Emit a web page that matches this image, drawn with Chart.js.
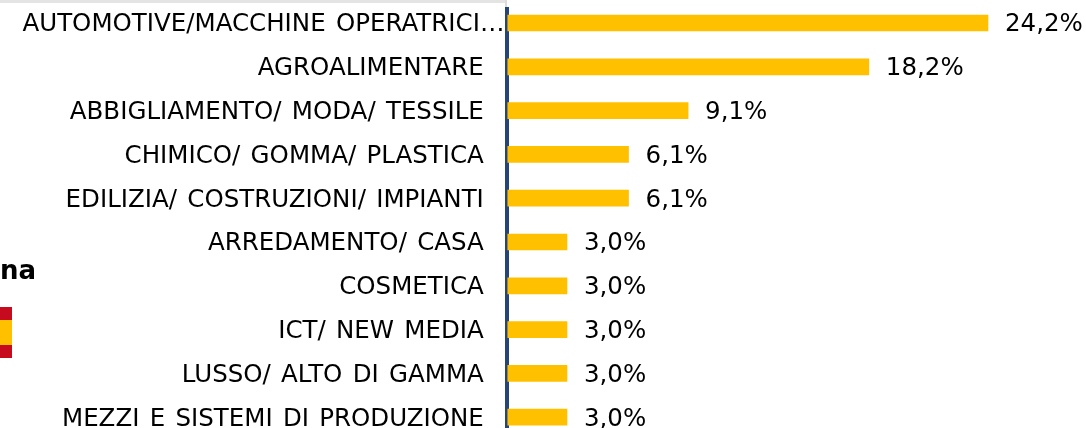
<!DOCTYPE html>
<html><head><meta charset="utf-8">
<style>
html,body{margin:0;padding:0;background:#fff;width:1086px;height:428px;overflow:hidden;position:relative}
canvas{position:absolute;left:0;top:0}
#rule{position:absolute;left:0;top:0;width:507px;height:3px;background:#e4e4e4}
#ruleEnd{position:absolute;left:505px;top:0;width:2px;height:7px;background:#dcdcdc}
#mask{position:absolute;left:507px;top:0;width:3px;height:7px;background:#fff}
#maskL{position:absolute;left:503px;top:3px;width:2px;height:4px;background:#fff}
#country{position:absolute;right:1050px;top:255px;font:bold 26px "DejaVu Sans";color:#000;white-space:nowrap}
.f{position:absolute;left:0;width:12px}
</style></head><body>
<canvas id="c" width="1086" height="440"></canvas>
<div id="mask"></div><div id="maskL"></div><div id="rule"></div><div id="ruleEnd"></div>
<div id="country">na</div>
<div class="f" style="top:307px;height:51px;background:#c60b1e"></div>
<div class="f" style="top:320px;height:25px;background:#ffc000"></div>
<script src="https://cdn.jsdelivr.net/npm/chart.js@4"></script>
<script>
const categories=["AUTOMOTIVE/MACCHINE OPERATRICI…","AGROALIMENTARE","ABBIGLIAMENTO/ MODA/ TESSILE","CHIMICO/ GOMMA/ PLASTICA","EDILIZIA/ COSTRUZIONI/ IMPIANTI","ARREDAMENTO/ CASA","COSMETICA","ICT/ NEW MEDIA","LUSSO/ ALTO DI GAMMA","MEZZI E SISTEMI DI PRODUZIONE"];
const values=[24.2,18.2,9.1,6.1,6.1,3.0,3.0,3.0,3.0,3.0];
const valueLabels=["24,2%","18,2%","9,1%","6,1%","6,1%","3,0%","3,0%","3,0%","3,0%","3,0%"];
const valueLabelPlugin={id:"valueLabels",
  beforeDraw(chart){chart.ctx.wordSpacing="2.5px"},
  afterDatasetsDraw(chart){
  const {ctx}=chart;const meta=chart.getDatasetMeta(0);
  ctx.save();ctx.font='24.5px "DejaVu Sans"';ctx.fillStyle="#000";ctx.textAlign="left";ctx.textBaseline="middle";
  meta.data.forEach((b,i)=>ctx.fillText(valueLabels[i],b.x+17,b.y+2));
  ctx.restore();
}};
new Chart(document.getElementById("c"),{
  type:"bar",
  data:{labels:categories,datasets:[{data:values,backgroundColor:"#ffc000",borderWidth:0,barThickness:16}]},
  options:{indexAxis:"y",responsive:false,animation:false,
    layout:{padding:{left:0,right:2.7,top:1.1,bottom:0.9}},
    plugins:{legend:{display:false},tooltip:{enabled:false}},
    scales:{
      x:{min:0,max:29,display:false},
      y:{
        afterFit(s){s.width=507.4;s.paddingTop=0;s.paddingBottom=0},
        grid:{display:false,drawTicks:false},
        border:{display:true,color:"#264478",width:4},
        ticks:{autoSkip:false,padding:3,labelOffset:2,color:"#000",font:{family:'"DejaVu Sans"',size:24.5},
          callback(v,i){return i===0?categories[i]:categories[i]+"\u00A0\u00A0"}}
      }
    }
  },
  plugins:[valueLabelPlugin]
});
</script></body></html>
